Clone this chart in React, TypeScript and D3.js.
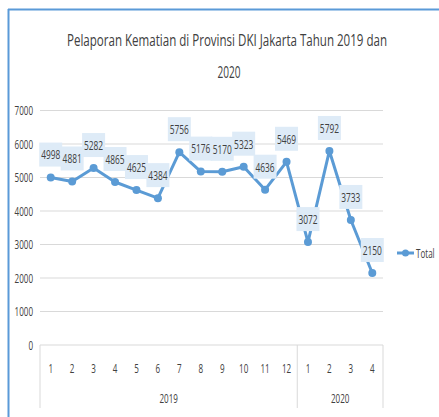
import React from "react";
import * as d3 from "d3";

const categories = ["1","2","3","4","5","6","7","8","9","10","11","12","1","2","3","4"];
const years = ["2019", "2020"];
const yearCounts = [12, 4];
const totals = [4998, 4881, 5282, 4865, 4625, 4384, 5756, 5176, 5170, 5323, 4636, 5469, 3072, 5792, 3733, 2150];
const yTicks = [0, 1000, 2000, 3000, 4000, 5000, 6000, 7000];
const title1 = "Pelaporan Kematian di Provinsi DKI Jakarta Tahun 2019 dan";
const title2 = "2020";
const seriesName = "Total";

const FONT = "'Open Sans', 'Noto Sans', 'DejaVu Sans', sans-serif";
const BLUE = "#5b9bd5";
const GRID = "#d9d9d9";
const TXT = "#404040";
const SX = 0.62;

function T(props: { x: number; y: number; size: number; anchor?: string; children: React.ReactNode }) {
  const { x, y, size, anchor = "middle", children } = props;
  return (
    <text
      transform={`translate(${x},${y}) scale(${SX},1)`}
      textAnchor={anchor}
      dy="0.36em"
      fontSize={size}
      fill={TXT}
    >
      {children}
    </text>
  );
}

export default function App() {
  const W = 439, H = 417;
  const left = 40, right = 383, top = 110.5, bottom = 345;
  const idx = categories.map((_, i) => i);
  const x = d3.scaleBand<number>().domain(idx).range([left, right]).padding(0);
  const y = d3.scaleLinear().domain([0, 7000]).range([bottom, top]);
  const cx = (i: number) => (x(i) as number) + x.bandwidth() / 2;
  const line = d3.line<number>().x((_, i) => cx(i)).y((d) => y(d));

  let acc = 0;
  const groups = years.map((yr, g) => {
    const start = acc;
    acc += yearCounts[g];
    return { yr, x0: x(start) as number, x1: (x(acc - 1) as number) + x.bandwidth() };
  });

  return (
    <svg width={W} height={H} style={{ position: "absolute", left: 0, top: 0 }} fontFamily={FONT}>
      <rect x={0} y={0} width={W} height={H} fill="#ffffff" />
      <line x1={8} y1={9.5} x2={W} y2={9.5} stroke="#5a9ad8" strokeWidth={2} />
      <line x1={8.5} y1={9} x2={8.5} y2={H} stroke="#5a9ad8" strokeWidth={2} />

      <text x={227} y={46} textAnchor="middle" fontSize={17} fill={TXT} textLength={320} lengthAdjust="spacingAndGlyphs">{title1}</text>
      <text x={229} y={78} textAnchor="middle" fontSize={17} fill={TXT} textLength={23} lengthAdjust="spacingAndGlyphs">{title2}</text>

      {yTicks.map((t) => (
        <g key={t}>
          <line x1={left} x2={right} y1={y(t)} y2={y(t)} stroke={GRID} strokeWidth={1} />
          <T x={33} y={y(t)} size={13} anchor="end">{t}</T>
        </g>
      ))}

      {categories.map((c, i) => (
        <T key={i} x={cx(i)} y={368} size={13}>{c}</T>
      ))}
      {[groups[0].x0, ...groups.map((g) => g.x1)].map((xx, i) => (
        <line key={i} x1={xx} x2={xx} y1={bottom} y2={408} stroke={GRID} strokeWidth={1} />
      ))}
      {groups.map((g) => (
        <T key={g.yr} x={(g.x0 + g.x1) / 2} y={398} size={13}>{g.yr}</T>
      ))}

      <path d={line(totals) as string} fill="none" stroke={BLUE} strokeWidth={3} strokeLinejoin="round" />
      {totals.map((v, i) => (
        <circle key={i} cx={cx(i)} cy={y(v)} r={4} fill={BLUE} />
      ))}
      {totals.map((v, i) => (
        <g key={i}>
          <rect x={cx(i) - 11.5} y={y(v) - 23 - 12} width={23} height={24} fill="#deebf7" />
          <T x={cx(i)} y={y(v) - 23} size={13.5}>{v}</T>
        </g>
      ))}

      <line x1={397} x2={414} y1={253} y2={253} stroke={BLUE} strokeWidth={3} />
      <circle cx={405.5} cy={253} r={3.5} fill={BLUE} />
      <T x={416} y={253} size={13} anchor="start">{seriesName}</T>
    </svg>
  );
}
